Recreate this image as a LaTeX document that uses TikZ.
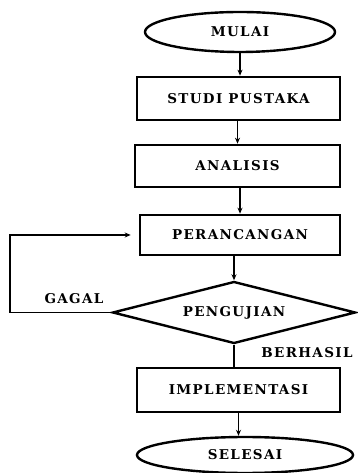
\documentclass[tikz,border=0pt]{standalone}
\usepackage{fontspec}
\setmainfont{DejaVu Serif}
\usetikzlibrary{shapes.geometric,arrows.meta}
\begin{document}
\begin{tikzpicture}[x=1pt,y=1pt,
  lbl/.style={font=\fontsize{13.5}{16}\selectfont\bfseries\addfontfeatures{LetterSpace=10}},
  term/.style={ellipse,draw,line width=2.4pt,inner sep=0pt,lbl},
  proc/.style={rectangle,draw,line width=2.6pt,inner sep=0pt,lbl},
  dec/.style={diamond,draw,line width=2.4pt,inner sep=0pt,lbl},
  conn/.style={line width=1.4pt},
  arr/.style={conn,-{Stealth[length=6pt,width=5pt]}}]
\useasboundingbox (0,0) rectangle (358,473);
\node[term,minimum width=190pt,minimum height=40pt] (mulai) at (240,441) {MULAI};
\node[proc,minimum width=203pt,minimum height=43pt] (studi) at (238.5,374.5) {STUDI PUSTAKA};
\node[proc,minimum width=205pt,minimum height=42pt] (anal) at (237.5,307) {ANALISIS};
\node[proc,minimum width=200pt,minimum height=40pt] (per) at (240,238) {PERANCANGAN};
\node[dec,minimum width=243pt,minimum height=62pt,aspect=3.9] (uji) at (234,160.5) {PENGUJIAN};
\node[proc,minimum width=203pt,minimum height=44pt] (imp) at (238.5,83) {IMPLEMENTASI};
\node[term,minimum width=216pt,minimum height=36pt] (sel) at (245,18) {SELESAI};
\node[lbl] (gagal) at (74,174) {GAGAL};
\node[lbl] (berhasil) at (307,120) {BERHASIL};
\coordinate (lc) at (10,160.5);
\draw[arr] (mulai.south) -- (mulai.south |- studi.north);
\draw[arr] (studi.south -| anal.north) -- (anal.north);
\draw[arr] (anal.south -| per.north) -- (per.north);
\draw[arr] (per.south -| uji.north) -- (uji.north);
\draw[conn] (uji.south) -- (uji.south |- imp.north);
\draw[arr] (imp.south) -- (imp.south |- sel.north);
\draw[arr,shorten >=8pt] (uji.west) -- (lc) |- (per.west);
\end{tikzpicture}
\end{document}
